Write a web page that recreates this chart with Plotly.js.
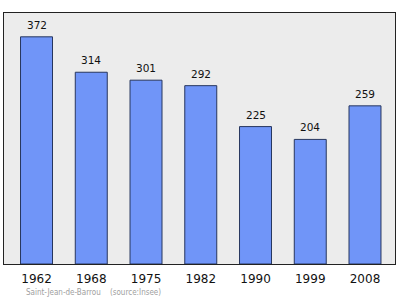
<!DOCTYPE html>
<html>
<head>
<meta charset="utf-8">
<script src="https://cdn.plot.ly/plotly-3.0.1.min.js"></script>
<style>
  html, body { margin: 0; padding: 0; background: #ffffff; }
  #chart { width: 400px; height: 299px; }
</style>
</head>
<body>
<div id="chart"></div>
<script>
// Population of Saint-Jean-de-Barrou by census year
const years = ['1962', '1968', '1975', '1982', '1990', '1999', '2008'];
const population = [372, 314, 301, 292, 225, 204, 259];
const sourceNote = 'Saint-Jean-de-Barrou    (source:Insee)';

// plot area size in pixels, used to place the source note below it
const plotW = 400 - 4 - 5;
const plotH = 299 - 13 - 35;

const bars = {
  type: 'bar',
  x: years,
  y: population,
  width: 0.584,
  marker: {
    color: '#7095f8',
    line: { color: '#27365e', width: 1 }
  },
  hoverinfo: 'x+y'
};

// value labels above each bar (category index keeps the year strings from being read as numbers)
const valueLabels = population.map((v, i) => ({
  x: i,
  y: v,
  xref: 'x',
  yref: 'y',
  text: String(v),
  showarrow: false,
  yanchor: 'middle',
  yshift: 12,
  font: { family: 'DejaVu Sans, sans-serif', size: 10.5, color: '#111111' }
}));

const layout = {
  width: 400,
  height: 299,
  margin: { l: 4, r: 5, t: 13, b: 35 },
  paper_bgcolor: '#ffffff',
  plot_bgcolor: '#ececec',
  showlegend: false,
  bargap: 0,
  xaxis: {
    type: 'category',
    range: [-0.594, 6.548],
    showgrid: false,
    zeroline: false,
    showline: true,
    mirror: true,
    linecolor: '#222222',
    linewidth: 1,
    ticks: '',
    ticklabelstandoff: 4,
    tickfont: { family: 'DejaVu Sans, sans-serif', size: 12, color: '#111111' },
    fixedrange: true
  },
  yaxis: {
    range: [0, 411],
    showgrid: false,
    zeroline: false,
    showline: true,
    mirror: true,
    linecolor: '#222222',
    linewidth: 1,
    showticklabels: false,
    ticks: '',
    fixedrange: true
  },
  annotations: valueLabels.concat([{
    x: 20 / plotW,
    y: -(292.5 - 264) / plotH,
    xref: 'paper',
    yref: 'paper',
    xanchor: 'left',
    yanchor: 'middle',
    text: sourceNote,
    showarrow: false,
    font: { family: 'DejaVu Sans Condensed, DejaVu Sans, sans-serif', size: 8, color: '#a0a0a0' }
  }])
};

Plotly.newPlot('chart', [bars], layout, { displayModeBar: false, staticPlot: true });
</script>
</body>
</html>
